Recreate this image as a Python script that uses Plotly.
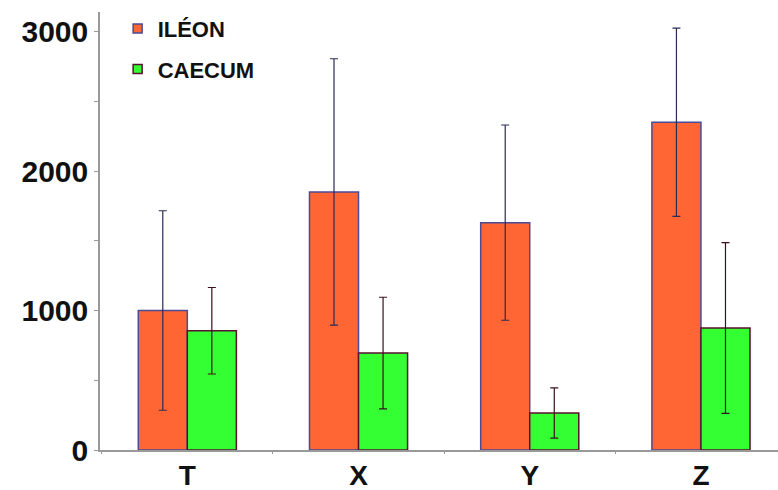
import plotly.graph_objects as go

categories = ["T", "X", "Y", "Z"]
ileon = [1000, 1850, 1630, 2350]
ileon_err = [715, 955, 700, 675]
caecum = [855, 695, 265, 875]
caecum_err = [310, 400, 180, 612]

ORANGE = "#FF6633"
GREEN = "#33FF33"
ILEON_LINE = "#4B4B96"
CAECUM_LINE = "#5A1030"

fig = go.Figure()
fig.add_trace(go.Bar(
    name="ILÉON", x=categories, y=ileon, showlegend=False,
    marker=dict(color=ORANGE, line=dict(color=ILEON_LINE, width=1.5)),
    error_y=dict(type="data", array=ileon_err, color="#2B2B55", thickness=1.2, width=4),
))
fig.add_trace(go.Bar(
    name="CAECUM", x=categories, y=caecum, showlegend=False,
    marker=dict(color=GREEN, line=dict(color=CAECUM_LINE, width=1.5)),
    error_y=dict(type="data", array=caecum_err, color="#3A1020", thickness=1.2, width=4),
))
# legend swatches (small squares as in the reference)
fig.add_trace(go.Scatter(
    name="ILÉON", x=[None], y=[None], mode="markers", legendgroup="a",
    marker=dict(symbol="square", size=9, color=ORANGE, line=dict(color=ILEON_LINE, width=1.5)),
))
fig.add_trace(go.Scatter(
    name="CAECUM", x=[None], y=[None], mode="markers", legendgroup="b",
    marker=dict(symbol="square", size=9, color=GREEN, line=dict(color=CAECUM_LINE, width=1.5)),
))

fig.update_layout(
    width=778, height=490,
    margin=dict(l=100, r=0, t=12, b=40),
    paper_bgcolor="white", plot_bgcolor="white",
    barmode="group", bargap=0.427, bargroupgap=0,
    showlegend=True,
    legend=dict(x=0.026, y=1.01, xanchor="left", yanchor="top",
                font=dict(family="Liberation Sans", size=22, color="#111111", weight="bold"),
                bgcolor="rgba(0,0,0,0)", tracegroupgap=9, traceorder="grouped"),
    font=dict(family="Liberation Sans", color="#111111"),
)
fig.update_xaxes(
    range=[-0.51, 3.45], showline=True, linecolor="#999999", linewidth=1.5,
    ticks="outside", tickson="boundaries", ticklen=2, tickcolor="#999999",
    tickfont=dict(family="Liberation Sans", size=28, color="#111111", weight="bold"),
    showgrid=False, zeroline=False, automargin=False,
)
fig.update_yaxes(
    range=[0, 3140], showline=True, linecolor="#999999", linewidth=1.5,
    tickvals=[0, 1000, 2000, 3000], ticks="outside", ticklen=4, tickcolor="#999999",
    minor=dict(dtick=500, ticks="outside", ticklen=4, tickcolor="#999999"),
    tickfont=dict(family="Liberation Sans", size=30, color="#111111", weight="bold"),
    showgrid=False, zeroline=False, automargin=False,
)
fig.write_html("out.html")
